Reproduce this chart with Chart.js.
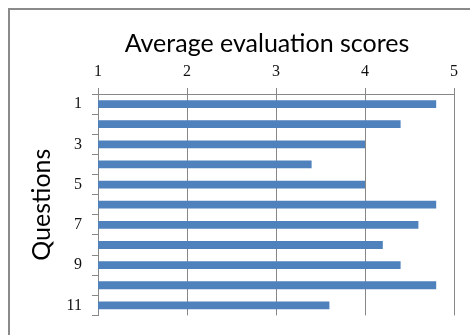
<!DOCTYPE html>
<html>
<head>
<meta charset="utf-8">
<script src="https://cdn.jsdelivr.net/npm/chart.js@4/dist/chart.umd.min.js"></script>
<style>
  html, body { margin: 0; padding: 0; background: #fff; overflow: hidden; }
  #wrap { position: relative; width: 470px; height: 335px; }
  #frame {
    position: absolute; left: 8px; top: 8px; width: 520px; height: 400px;
    border: 2px solid #8a8a8a; box-sizing: border-box;
  }
  canvas { position: absolute; left: 0; top: 0; }
</style>
</head>
<body>
<div id="wrap">
  <div id="frame"></div>
  <canvas id="chartCanvas" width="470" height="335"></canvas>
</div>
<script>
const questions = ["1", "2", "3", "4", "5", "6", "7", "8", "9", "10", "11"];
const avgScores = [4.8, 4.4, 4.0, 3.4, 4.0, 4.8, 4.6, 4.2, 4.4, 4.8, 3.6];
const scoreTicks = [1, 2, 3, 4, 5];

const gridColor = "#878787";

// keep the title centred on the whole chart box, not the cropped canvas
const titleShift = {
  id: "titleShift",
  afterLayout(chart) {
    chart.titleBlock.left = 9;
    chart.titleBlock.right = 525;
  }
};

const ctx = document.getElementById("chartCanvas").getContext("2d");

new Chart(ctx, {
  type: "bar",
  data: {
    labels: questions,
    datasets: [{
      label: "Average score",
      data: avgScores,
      backgroundColor: "#4f81bd",
      borderWidth: 0,
      barPercentage: 0.39,
      categoryPercentage: 1
    }]
  },
  options: {
    indexAxis: "y",
    responsive: false,
    animation: false,
    layout: { padding: { left: 0, right: 16, top: 0, bottom: 17 } },
    plugins: {
      legend: { display: false },
      tooltip: { enabled: false },
      title: {
        display: true,
        text: "Average evaluation scores",
        color: "#000",
        font: { family: "Lato", size: 25, weight: "normal" },
        padding: { top: 28.5, bottom: 0 }
      }
    },
    scales: {
      x: {
        position: "top",
        min: 1,
        max: 5,
        afterBuildTicks: scale => {
          scale.ticks = scoreTicks.map(v => ({ value: v }));
        },
        afterFit: scale => { scale.height = 35.5; },
        ticks: {
          color: "#111",
          padding: 6.4,
          font: { family: "Liberation Serif", size: 16 }
        },
        grid: { color: gridColor, tickLength: 6, lineWidth: 1 },
        border: { color: gridColor, width: 1 }
      },
      y: {
        afterFit: scale => { scale.width = 98; },
        ticks: {
          autoSkip: false,
          color: "#111",
          padding: 10,
          font: { family: "Liberation Serif", size: 16 },
          callback: (val, i) => (i % 2 === 0 ? questions[i] : "")
        },
        grid: { offset: true, drawOnChartArea: false, color: gridColor, tickLength: 6 },
        border: { color: gridColor, width: 1 },
        title: {
          display: true,
          text: "Questions",
          color: "#000",
          font: { family: "Lato", size: 25, weight: "normal" },
          padding: { top: 27, bottom: 0 }
        }
      }
    }
  },
  plugins: [titleShift]
});
</script>
</body>
</html>
